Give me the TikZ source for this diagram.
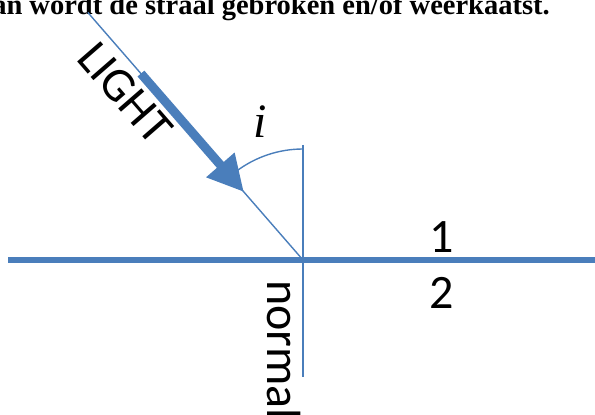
\documentclass[tikz,border=0pt]{standalone}
\usepackage{fontspec}
\setmainfont{Liberation Serif}
\newfontfamily\calib{Carlito}
\usetikzlibrary{arrows.meta,calc}
\definecolor{ray}{HTML}{4A7EBB}
\tikzset{
  thinray/.style={draw=ray, line width=1.4pt},
  label/.style={inner sep=0pt, font=\calib\fontsize{48}{54}\selectfont},
}
\begin{document}
\begin{tikzpicture}[x=1pt,y=1pt]
\useasboundingbox (0,0) rectangle (595,415);
\clip (0,0) rectangle (595,415);
% title (clipped at top)
\node[inner sep=0pt, anchor=base east, font=\bfseries\fontsize{28.5}{32}\selectfont] (title) at (550,400.5) {an wordt de straal gebroken en/of weerkaatst.};
% geometry
\coordinate (O) at (303,155);
\coordinate (L) at (8,155);
\coordinate (R) at (595,155);
\coordinate (Ntop) at (303,270);
\coordinate (Nbot) at (303,38);
\coordinate (P) at ($(O)+(131:328)$);
% surface
\draw[draw=ray, line width=6pt] (L) -- (R);
% normal
\draw[thinray] (Ntop) -- (Nbot);
% incident ray
\draw[thinray] (P) -- (O);
% angle arc
\draw[thinray] ($(O)+(90:111)$) arc[start angle=90, end angle=127, radius=111];
% light arrow
\coordinate (At) at ($(O)+(131:247)$);
\coordinate (Ah) at ($(O)+(131:90)$);
\draw[draw=ray, line width=9pt, -{Triangle[length=36pt,width=35pt]}] (At) -- (Ah);
% labels
\node[label, rotate=-49] (light) at (125,322) {LIGHT};
\node[inner sep=0pt, font=\itshape\fontsize{48}{54}\selectfont] (i) at (260,293) {i};
\node[label] (one) at (442,177.5) {1};
\node[label] (two) at (442,122) {2};
\node[label, rotate=-90, anchor=base west] (normal) at (267,135) {normal};
\end{tikzpicture}
\end{document}
